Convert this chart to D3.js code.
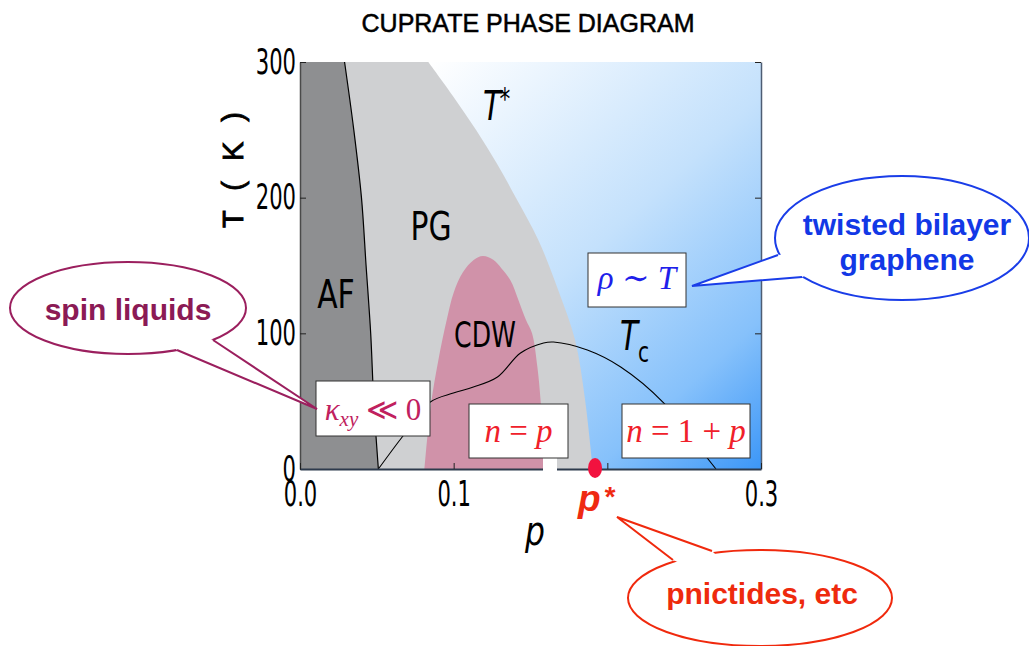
<!DOCTYPE html>
<html>
<head>
<meta charset="utf-8">
<script src="https://cdn.jsdelivr.net/npm/d3@7"></script>
<style>
  body { margin: 0; background: #fff; }
  svg { display: block; }
</style>
</head>
<body>
<svg id="chart" width="1029" height="646"></svg>
<script>
// phase boundaries as [p, T (K)]
const afLine = [[0.029,300],[0.035,250],[0.040,200],[0.043,150],[0.046,100],[0.048,50],[0.051,0]];
const tStarLine = [[0.0835,300],[0.0995,275],[0.1145,250],[0.1282,225],[0.1405,200],[0.155,169],[0.168,132],[0.179,95],[0.1855,51],[0.1905,0]];
const cdwDome = [[0.081,0],[0.083,25],[0.0855,50],[0.090,80],[0.0955,110],[0.100,130],[0.106,145],[0.113,154],[0.119,157],
                 [0.126,154],[0.131,148],[0.137,139],[0.142,125],[0.147,110],[0.151,100],[0.1545,75],[0.1566,50],[0.158,20],[0.1585,0]];
const tcLine = [[0.051,0],[0.0665,23.6],[0.0848,49.4],[0.0998,56],[0.1128,60.4],[0.1285,67.8],[0.1435,85.5],[0.1585,92.9],
                [0.165,93.6],[0.187,87.7],[0.2087,75.2],[0.2368,48.6],[0.2655,7.4],[0.2707,0]];
const pStar = 0.192;

const xTicks = [0, 0.1, 0.2, 0.3];
const xTickLabels = ["0.0", "0.1", "", "0.3"];
const yTicks = [0, 100, 200, 300];

const svg = d3.select("#chart");
const x = d3.scaleLinear([0, 0.3], [300, 761]);
const y = d3.scaleLinear([0, 300], [469, 62]);

const narrow = "'DejaVu Sans Condensed', 'Liberation Sans Narrow', sans-serif";
const sans = "'Liberation Sans', Arial, sans-serif";
const serif = "'Liberation Serif', 'DejaVu Serif', serif";

// background gradient
const defs = svg.append("defs");
const grad = defs.append("linearGradient").attr("id", "blue")
  .attr("gradientUnits", "userSpaceOnUse")
  .attr("x1", 430).attr("y1", 62).attr("x2", 800).attr("y2", 470);
grad.append("stop").attr("offset", 0).attr("stop-color", "#ffffff");
grad.append("stop").attr("offset", 0.45).attr("stop-color", "#c4e1fc");
grad.append("stop").attr("offset", 0.75).attr("stop-color", "#86c1fb");
grad.append("stop").attr("offset", 1).attr("stop-color", "#2a8cf6");

svg.append("rect")
  .attr("x", x(0)).attr("y", y(300))
  .attr("width", x(0.3) - x(0)).attr("height", y(0) - y(300))
  .attr("fill", "url(#blue)");

const leftArea = d3.area()
  .y(d => y(d[1]))
  .x0(x(0))
  .x1(d => x(d[0]))
  .curve(d3.curveCatmullRom);

// pseudogap
svg.append("path").attr("d", leftArea(tStarLine)).attr("fill", "#cfd0d2");
// antiferromagnet
svg.append("path").attr("d", leftArea(afLine)).attr("fill", "#8e8f91");

const line = d3.line().x(d => x(d[0])).y(d => y(d[1])).curve(d3.curveCatmullRom);

// CDW dome
svg.append("path").attr("d", line(cdwDome) + "Z").attr("fill", "#d092a9");

svg.append("path").attr("d", line(tcLine))
  .attr("fill", "none").attr("stroke", "#000").attr("stroke-width", 1.1);
svg.append("path").attr("d", line(afLine))
  .attr("fill", "none").attr("stroke", "#000").attr("stroke-width", 1.2);

// axes
const gl = svg.append("g").attr("transform", `translate(${x(0)},0)`)
  .call(d3.axisLeft(y).tickValues(yTicks).tickSizeInner(-6).tickSizeOuter(0).tickPadding(6));
const gr = svg.append("g").attr("transform", `translate(${x(0.3)},0)`)
  .call(d3.axisRight(y).tickValues(yTicks).tickSizeInner(-6).tickSizeOuter(0).tickFormat(""));
const gb = svg.append("g").attr("transform", `translate(0,${y(0)})`)
  .call(d3.axisBottom(x).tickValues(xTicks).tickFormat((d, i) => xTickLabels[i])
    .tickSizeInner(-6).tickSizeOuter(0).tickPadding(12));

gl.select(".domain").attr("stroke", "#4a4a4a").attr("stroke-width", 1.5);
gr.select(".domain").attr("stroke", "#4e5d73").attr("stroke-width", 1.5);
gb.select(".domain").attr("stroke", "#2d3a4c").attr("stroke-width", 2);
[gl, gr, gb].forEach(g => {
  g.selectAll(".tick line").attr("stroke", "#222");
  g.selectAll("text")
    .attr("font-family", narrow).attr("font-size", 35).attr("fill", "#000")
    .attr("transform", "scale(0.67,1)");
});

// notch in the bottom axis
svg.append("rect").attr("x", 543).attr("y", 457).attr("width", 14).attr("height", 15).attr("fill", "#fff");

// condensed labels
function label(txt, px, py, size, opts = {}) {
  return svg.append("text")
    .attr("transform", `translate(${px},${py}) scale(${opts.sx || 0.85},1)`)
    .attr("font-family", opts.family || narrow)
    .attr("font-size", size)
    .attr("font-style", opts.italic ? "italic" : "normal")
    .attr("font-weight", opts.weight || "normal")
    .attr("text-anchor", opts.anchor || "middle")
    .attr("fill", opts.color || "#000")
    .text(txt);
}

label("PG", 431, 240, 39);
label("AF", 336, 308, 39);
label("CDW", 485, 347, 35, { sx: 0.8 });
const ts = label("T", 483, 120, 41, { italic: true, anchor: "start", sx: 0.8 });
ts.append("tspan").attr("font-style", "normal").attr("font-size", 30).attr("dy", -11).attr("dx", -2).text("*");
const tc = label("T", 620, 350, 41, { italic: true, anchor: "start", sx: 0.8 });
tc.append("tspan").attr("font-style", "normal").attr("font-size", 28).attr("dy", 12).text("c");
label("p", 535, 545, 41, { italic: true });

// title and y label
svg.append("text").attr("x", 528).attr("y", 32)
  .attr("font-family", sans).attr("font-size", 25).attr("text-anchor", "middle")
  .attr("stroke", "#000").attr("stroke-width", 0.5)
  .text("CUPRATE PHASE DIAGRAM");
svg.append("text").attr("transform", "translate(243,167) rotate(-90)")
  .attr("font-family", sans).attr("font-size", 29).attr("text-anchor", "middle")
  .attr("letter-spacing", 6).attr("stroke", "#000").attr("stroke-width", 0.9)
  .text("T ( K )");

// p* marker
svg.append("ellipse").attr("cx", x(pStar)).attr("cy", y(0) - 1).attr("rx", 7).attr("ry", 10).attr("fill", "#f2123f");
const ps = svg.append("text").attr("x", 578).attr("y", 511)
  .attr("font-family", sans).attr("font-size", 37).attr("font-style", "italic").attr("font-weight", "bold")
  .attr("fill", "#ef2a12").text("p");
ps.append("tspan").attr("font-size", 28).attr("dy", -5).attr("dx", 3).text("*");

// boxes with formulas
function box(x0, y0, x1, y1, parts, color, size, baseline) {
  svg.append("rect").attr("x", x0).attr("y", y0).attr("width", x1 - x0).attr("height", y1 - y0)
    .attr("fill", "#fff").attr("stroke", "#333").attr("stroke-width", 1);
  const t = svg.append("text").attr("x", (x0 + x1) / 2).attr("y", baseline)
    .attr("font-family", serif).attr("font-size", size).attr("fill", color)
    .attr("text-anchor", "middle").attr("xml:space", "preserve");
  parts.forEach(p => {
    t.append("tspan")
      .attr("font-style", p.i ? "italic" : "normal")
      .attr("font-size", p.s || size)
      .attr("dy", p.dy || 0)
      .text(p.t);
  });
}

box(316, 381, 430, 436, [
  { t: "κ", i: true }, { t: "xy", i: true, s: 21, dy: 6 }, { t: " ≪ 0", dy: -6 }
], "#c0215e", 31, 420);
box(469, 404, 568, 458, [{ t: "n", i: true }, { t: " = " }, { t: "p", i: true }], "#f0202a", 33, 442);
box(622, 404, 750, 458, [{ t: "n", i: true }, { t: " = 1 + " }, { t: "p", i: true }], "#f0202a", 33, 442);
box(588, 253, 686, 307, [{ t: "ρ", i: true }, { t: " ∼ " }, { t: "T", i: true }], "#1f1fea", 33, 289);

// speech bubbles
function bubble(cx, cy, rx, ry, a, tip, b, color, lines, textColor) {
  const g = svg.append("g");
  g.append("ellipse").attr("cx", cx).attr("cy", cy).attr("rx", rx).attr("ry", ry)
    .attr("fill", "#fff").attr("stroke", color).attr("stroke-width", 2);
  g.append("path").attr("d", `M${a}L${tip}L${b}L${cx},${cy}Z`).attr("fill", "#fff");
  g.append("path").attr("d", `M${a}L${tip}L${b}`)
    .attr("fill", "none").attr("stroke", color).attr("stroke-width", 2);
  lines.forEach(l => {
    g.append("text").attr("x", l.x).attr("y", l.y)
      .attr("font-family", sans).attr("font-size", 30).attr("font-weight", "bold")
      .attr("text-anchor", "middle").attr("fill", textColor).text(l.t);
  });
}

bubble(128, 308, 118, 46, [177, 350], [317, 409], [213, 340], "#9b1f5e",
  [{ t: "spin liquids", x: 128, y: 320 }], "#8b1a55");
bubble(902, 238, 127, 62, [778, 255], [692, 286], [802, 277], "#1a3de8",
  [{ t: "twisted bilayer", x: 907, y: 235 }, { t: "graphene", x: 907, y: 270 }], "#1238e6");
bubble(760, 598, 132, 48, [712, 551], [617, 517], [673, 560], "#f0290d",
  [{ t: "pnictides, etc", x: 762, y: 604 }], "#ee2a0d");
</script>
</body>
</html>
